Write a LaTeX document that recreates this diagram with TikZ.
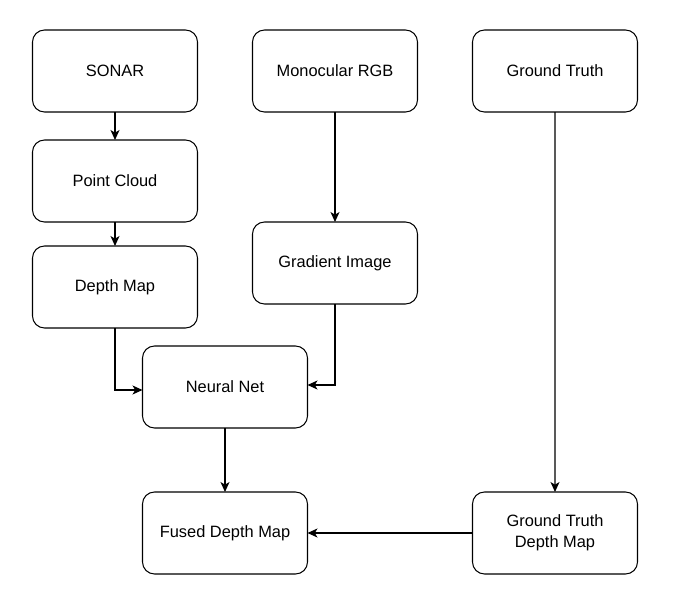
\documentclass[tikz,border=0pt]{standalone}
\usepackage{fontspec}
\setmainfont{Liberation Sans}
\usepackage{tikz}
\usetikzlibrary{positioning,calc,arrows.meta}
\tikzset{stagenode/.style={shape=rectangle, rounded corners=0.36cm, draw=black, fill=white, line width=0.9pt, minimum width=4.95cm, minimum height=2.46cm, inner sep=0pt, outer sep=0pt, align=center, font=\fontsize{14}{17.5}\selectfont}}
\tikzset{flowline/.style={line width=0.9pt, -{Stealth[length=0.3cm, width=0.27cm, inset=0.08cm]}}}

\begin{document}
\begin{tikzpicture}
\useasboundingbox (0,0) rectangle (21,-18.24);
%Nodes
\node[stagenode]  (sonar)   at (3.45,-2.13)              {SONAR};
\node[stagenode]  (mono)    [right=1.65cm of sonar]      {Monocular RGB};
\node[stagenode]  (truth)   [right=1.65cm of mono]       {Ground Truth};
\node[stagenode]  (cloud)   [below=0.84cm of sonar]      {Point Cloud};
\node[stagenode]  (dmap)    [below=0.72cm of cloud]      {Depth Map};
\node[stagenode]  (grad)    [below=3.3cm of mono]        {Gradient Image};
\node[stagenode]  (net)     at (6.75,-11.61)             {Neural Net};
\node[stagenode]  (fused)   [below=1.92cm of net]        {Fused Depth Map};
\node[stagenode]  (gtdmap)  [right=4.95cm of fused]      {Ground Truth\\Depth Map};
%Lines
\draw[flowline] (sonar) to (cloud);
\draw[flowline] (cloud) to (dmap);
\draw[flowline] (mono) to (grad);
\draw[flowline] (dmap.south) |- ([yshift=-0.09cm]net.west);
\draw[flowline] (grad.south) |- ([yshift=0.06cm]net.east);
\draw[flowline] (net) to (fused);
\draw[flowline] (truth) to (gtdmap);
\draw[flowline] (gtdmap) to (fused);
\end{tikzpicture}
\end{document}
